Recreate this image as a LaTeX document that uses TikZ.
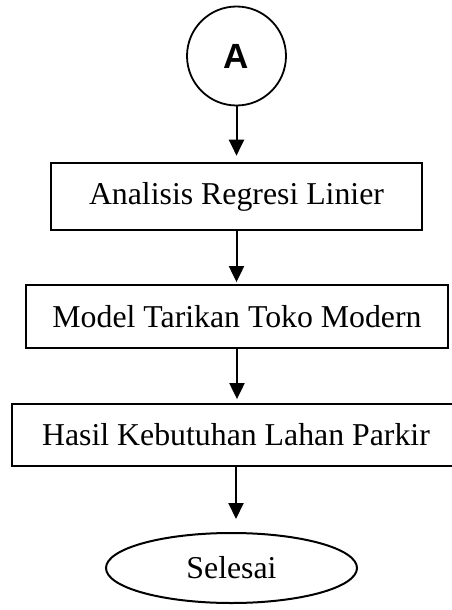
\documentclass[tikz,border=0pt]{standalone}
\usepackage{fontspec}
\setmainfont{Liberation Serif}
\newfontfamily\headfont{Liberation Sans}
\usetikzlibrary{arrows.meta,shapes.geometric}

\tikzset{
  x=0.5pt, y=-0.5pt,
  every node/.style={font=\fontsize{15.9}{19}\selectfont},
  procbox/.style={draw, line width=0.9pt, rectangle, inner sep=0pt},
  connector/.style={draw, circle, line width=0.9pt, inner sep=0pt, minimum size=49.5pt,
    font=\headfont\bfseries\fontsize{17.5}{20}\selectfont},
  terminal/.style={draw, ellipse, line width=1pt, inner sep=0pt},
  flow/.style={line width=1pt, -{Triangle[width=7.5pt,length=8pt]}}
}

\begin{document}
\begin{tikzpicture}
  \useasboundingbox (0,0) rectangle (451,610);

  \node[connector] (start) at (236.5,56) {A};
  \node[procbox, line width=1.3pt, minimum width=185.5pt, minimum height=33.5pt]
    (regresi) at (236.5,196.5) {Analisis Regresi Linier};
  \node[procbox, minimum width=211pt, minimum height=31.5pt]
    (model) at (237,316.5) {Model Tarikan Toko Modern};
  \node[procbox, minimum width=224pt, minimum height=31pt]
    (hasil) at (236,435) {Hasil Kebutuhan Lahan Parkir};
  \node[terminal, minimum width=125.5pt, minimum height=35pt]
    (selesai) at (231.5,568) {\raisebox{-2.5pt}{Selesai}};

  \draw[flow, shorten >=3pt] (start.south) -- (start.south |- regresi.north);
  \draw[flow, shorten >=1pt] (regresi.south) -- (regresi.south |- model.north);
  \draw[flow, shorten >=2pt] (model.south) -- (model.south |- hasil.north);
  \draw[flow, shorten >=6.5pt] (hasil.south) -- (hasil.south |- selesai.north);
\end{tikzpicture}
\end{document}
